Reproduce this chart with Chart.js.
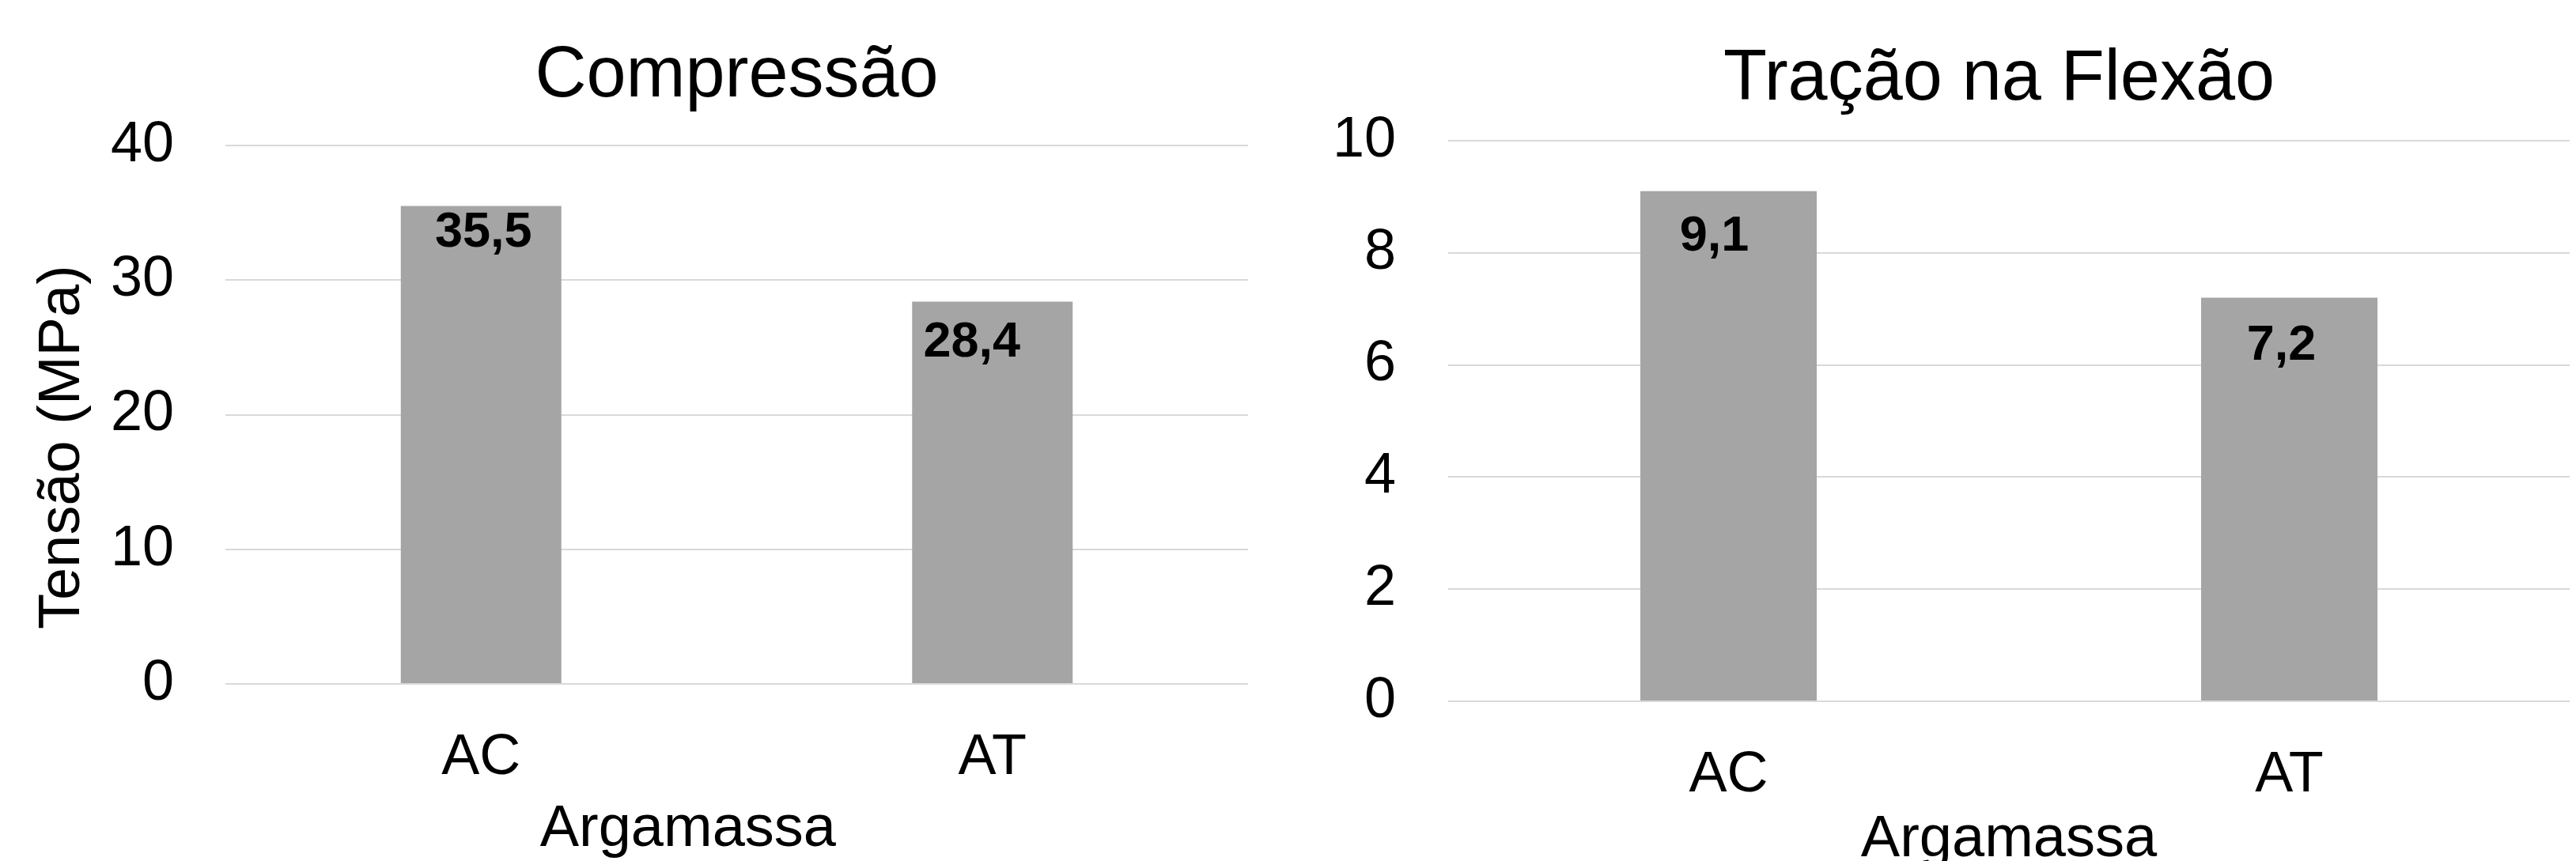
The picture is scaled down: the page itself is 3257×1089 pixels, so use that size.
<!DOCTYPE html>
<html>
<head>
<meta charset="utf-8">
<script src="https://cdn.jsdelivr.net/npm/chart.js@4"></script>
<style>
  html, body { margin: 0; padding: 0; background: #fff; overflow: hidden; width: 3257px; height: 1089px; }
  canvas { position: absolute; top: 0; }
  #compChart { left: 0; }
  #flexChart { left: 1620px; }
</style>
</head>
<body>
<canvas id="compChart" width="1620" height="1089"></canvas>
<canvas id="flexChart" width="1637" height="1130"></canvas>
<script>
// ===== DATA =====
const categories = ['AC', 'AT'];
const compressao = [35.5, 28.4];
const tracaoFlexao = [9.1, 7.2];
const compTicks = [0, 10, 20, 30, 40];
const flexTicks = [0, 2, 4, 6, 8, 10];

const FONT = "'Liberation Sans', Arial, sans-serif";
const NB = '\u00a0';

// value labels inside the top of each bar, comma decimals
const valueLabels = {
  id: 'valueLabels',
  afterDatasetsDraw(chart, args, opts) {
    const ctx = chart.ctx;
    const meta = chart.getDatasetMeta(0);
    const data = chart.data.datasets[0].data;
    ctx.save();
    ctx.font = 'bold 63px ' + FONT;
    ctx.fillStyle = '#000';
    ctx.textAlign = 'center';
    ctx.textBaseline = 'alphabetic';
    meta.data.forEach((bar, i) => {
      const off = opts.offsets[i] || [0, 60];
      ctx.fillText(data[i].toFixed(1).replace('.', ','), bar.x + off[0], bar.y + off[1]);
    });
    ctx.restore();
  }
};

function makeChart(id, values, ticks, cfg) {
  return new Chart(document.getElementById(id), {
    type: 'bar',
    data: {
      labels: categories,
      datasets: [{
        data: values,
        backgroundColor: '#a5a5a5',
        barPercentage: cfg.barPct,
        categoryPercentage: 1
      }]
    },
    plugins: [valueLabels],
    options: {
      responsive: false,
      animation: false,
      layout: { padding: { left: 0, right: cfg.padRight, top: 0, bottom: 0 } },
      plugins: {
        legend: { display: false },
        tooltip: { enabled: false },
        title: {
          display: true,
          fullSize: false,
          text: cfg.title,
          color: '#000',
          font: { family: FONT, size: 90, weight: 'normal' },
          padding: { top: cfg.titleTop, bottom: cfg.titleBottom }
        },
        valueLabels: { offsets: cfg.labelOffsets }
      },
      scales: {
        x: {
          grid: { display: false },
          border: { display: false },
          ticks: { color: '#000', padding: 43, font: { family: FONT, size: 72 } },
          title: {
            display: true,
            text: cfg.xTitle,
            color: '#000',
            font: { family: FONT, size: 74, lineHeight: 1 },
            padding: { top: 0, bottom: cfg.xTitleBottom }
          },
          afterFit(scale) { scale.height = cfg.xHeight; }
        },
        y: {
          min: ticks[0],
          max: ticks[ticks.length - 1],
          grid: { color: '#d9d9d9', lineWidth: 2, drawTicks: false },
          border: { display: false },
          ticks: {
            stepSize: ticks[1] - ticks[0],
            color: '#000',
            padding: cfg.yPad,
            font: { family: FONT, size: 72 }
          },
          title: {
            display: !!cfg.yTitle,
            text: cfg.yTitle || '',
            color: '#000',
            font: { family: FONT, size: 74, lineHeight: 1 },
            padding: { top: 43, bottom: 0 }
          },
          afterFit(scale) { scale.width = cfg.yWidth; }
        }
      }
    }
  });
}

// 1. Compressão
makeChart('compChart', compressao, compTicks, {
  title: 'Compressão',
  titleTop: 43,
  titleBottom: 33,
  xTitle: 'Argamassa' + NB.repeat(6),
  xTitleBottom: 2,
  xHeight: 1089 - 865,
  yTitle: 'Tensão (MPa)' + NB.repeat(4),
  yWidth: 285,
  yPad: 65,
  padRight: 42,
  barPct: 0.314,
  labelOffsets: [[3, 51], [-26, 70]]
});

// 2. Tração na Flexão
makeChart('flexChart', tracaoFlexao, flexTicks, {
  title: 'Tração na Flexão' + NB,
  titleTop: 47,
  titleBottom: 23,
  xTitle: 'Argamassa',
  xTitleBottom: 30,
  xHeight: 1130 - 887,
  yTitle: null,
  yWidth: 211,
  yPad: 66,
  padRight: 8,
  barPct: 0.3145,
  labelOffsets: [[-18, 75], [-10, 78]]
});
</script>
</body>
</html>
